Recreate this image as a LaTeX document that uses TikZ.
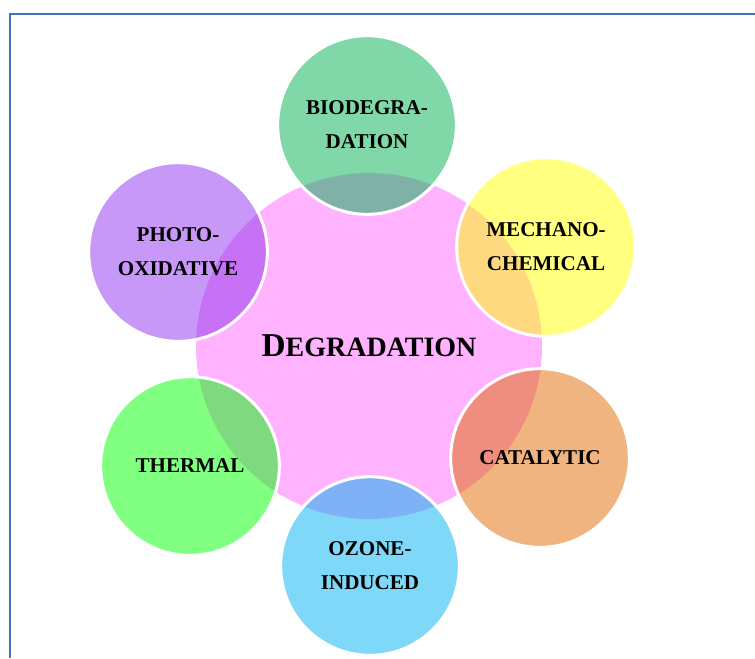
\documentclass[tikz,border=0pt]{standalone}
\usepackage{fontspec}
\setmainfont{Liberation Serif}
\usepackage{tikz}
\definecolor{frameblue}{HTML}{4472C4}
\definecolor{degpink}{HTML}{FFB3FF}
\definecolor{biogreen}{HTML}{01B151}
\definecolor{mechyellow}{HTML}{FFFF01}
\definecolor{catorange}{HTML}{E16901}
\definecolor{ozoneblue}{HTML}{01B1F1}
\definecolor{thermgreen}{HTML}{01FF01}
\definecolor{photopurple}{HTML}{9131F1}

\begin{document}
\begin{tikzpicture}[x=0.75pt,y=-0.75pt,
    kind/.style={circle, draw=white, line width=2.25pt, fill opacity=0.5, text opacity=1,
        inner sep=0pt, minimum size=134pt, align=center,
        font=\fontsize{15.8}{25.5}\selectfont\bfseries}]
    \useasboundingbox (0,0) rectangle (755,658);

    \draw[frameblue, line width=1.5pt] (9.5,658) -- (9.5,14) -- (755,14);

    \node[circle, fill=degpink, inner sep=0pt, minimum size=259.5pt, font=\bfseries] (deg) at (369,346)
        {\fontsize{25}{30}\selectfont D\fontsize{21}{25}\selectfont EGRADATION};

    \node[kind, fill=biogreen] (bio) at (367,125) {BIODEGRA-\\DATION};
    \node[kind, fill=mechyellow] (mech) at (546,247) {MECHANO-\\CHEMICAL};
    \node[kind, fill=catorange] (cat) at (540,458) {CATALYTIC};
    \node[kind, fill=ozoneblue] (ozone) at (370,566) {OZONE-\\INDUCED};
    \node[kind, fill=thermgreen] (therm) at (190,466) {THERMAL};
    \node[kind, fill=photopurple] (photo) at (178,252) {PHOTO-\\OXIDATIVE};

\end{tikzpicture}
\end{document}
